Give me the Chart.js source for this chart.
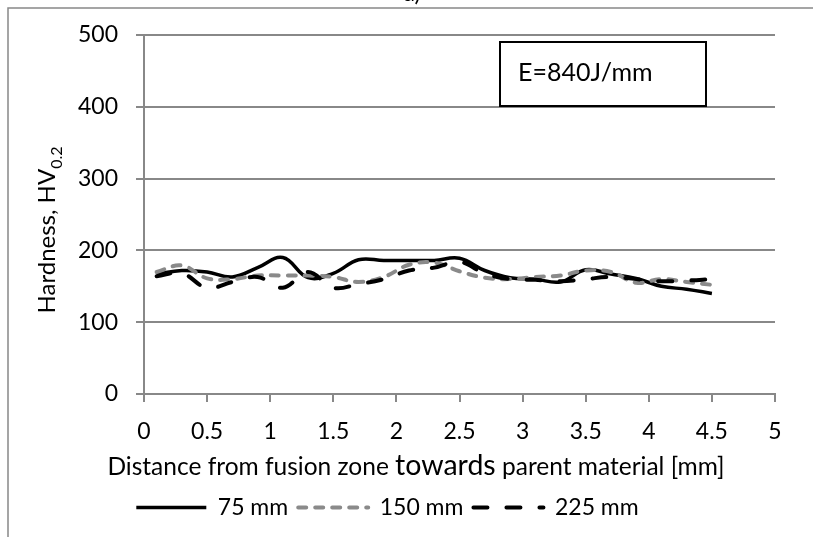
<!DOCTYPE html>
<html>
<head>
<meta charset="utf-8">
<script src="https://cdn.jsdelivr.net/npm/chart.js@4.4.3/dist/chart.umd.min.js"></script>
<style>
  html, body { margin: 0; padding: 0; background: #fff; }
</style>
</head>
<body>
<canvas id="chart" width="813" height="537"></canvas>
<script>

// Measuring points [mm]
const distances = [0.1, 0.3, 0.5, 0.7, 0.9, 1.1, 1.3, 1.5, 1.7, 1.9, 2.1, 2.3,
  2.5, 2.7, 2.9, 3.1, 3.3, 3.5, 3.7, 3.9, 4.1, 4.3, 4.5];

// Hardness HV0.2 per distance from weld start
const hv75 = [167, 172, 170, 163, 176, 190, 162, 168, 187, 186, 186, 186,
  189, 172, 162, 160, 156, 173, 167, 161, 150, 146, 140];
const hv150 = [170, 179, 161, 160, 165, 165, 165, 163, 156, 163, 180, 183,
  171, 162, 160, 163, 165, 172, 170, 155, 160, 156, 152];
const hv225 = [164, 168, 148, 156, 163, 148, 170, 148, 153, 160, 172, 176,
  184, 168, 160, 159, 157, 160, 163, 160, 157, 158, 160];

const seriesNames = ['75 mm', '150 mm', '225 mm'];

const xRange = [0, 5];
const xStep = 0.5;
const yRange = [0, 500];
const yStep = 100;

const xTitle = ['Distance from fusion zone ', 'towards', ' parent material [mm]'];
const yTitle = ['Hardness, HV', '0.2'];
const boxLabel = 'E=840J/mm';

const FONT = 'Lato, "Liberation Sans", sans-serif';
const GRID = '#888888';

const points = values => values.map((v, i) => ({ x: distances[i], y: v }));

// Frame, axis titles and the energy label box.
const decorations = {
  id: 'decorations',
  afterDraw(chart) {
    const ctx = chart.ctx;
    ctx.save();

    // outer frame (only left and top edge inside the picture)
    ctx.strokeStyle = GRID;
    ctx.lineWidth = 1.5;
    ctx.beginPath();
    ctx.moveTo(8, 537);
    ctx.lineTo(8, 8);
    ctx.lineTo(813, 8);
    ctx.stroke();

    // cut off panel label
    ctx.fillStyle = '#000';
    ctx.font = `23px ${FONT}`;
    ctx.textAlign = 'center';
    ctx.textBaseline = 'alphabetic';
    ctx.fillText('a)', 412, 1);

    // y title with subscript
    ctx.save();
    ctx.translate(55, 230);
    ctx.rotate(-Math.PI / 2);
    ctx.textAlign = 'left';
    ctx.font = `24px ${FONT}`;
    const wMain = ctx.measureText(yTitle[0]).width;
    ctx.font = `16px ${FONT}`;
    const wSub = ctx.measureText(yTitle[1]).width;
    const y0 = -(wMain + wSub) / 2;
    ctx.font = `24px ${FONT}`;
    ctx.fillText(yTitle[0], y0, 0);
    ctx.font = `16px ${FONT}`;
    ctx.fillText(yTitle[1], y0 + wMain, 7);
    ctx.restore();

    // x title, middle word set larger
    const sizes = [24.5, 28.5, 24.5];
    const widths = xTitle.map((t, i) => {
      ctx.font = `${sizes[i]}px ${FONT}`;
      return ctx.measureText(t).width;
    });
    let x = 416 - widths.reduce((a, b) => a + b, 0) / 2;
    ctx.textAlign = 'left';
    xTitle.forEach((t, i) => {
      ctx.font = `${sizes[i]}px ${FONT}`;
      ctx.fillText(t, x, 475);
      x += widths[i];
    });

    // label box
    ctx.fillStyle = '#fff';
    ctx.fillRect(500, 42, 206, 64);
    ctx.strokeStyle = '#000';
    ctx.lineWidth = 2;
    ctx.strokeRect(500, 42, 206, 64);
    ctx.fillStyle = '#000';
    ctx.font = `25px ${FONT}`;
    ctx.fillText(boxLabel, 518, 81);

    ctx.restore();
  }
};

new Chart(document.getElementById('chart'), {
  type: 'line',
  data: {
    datasets: [
      {
        label: seriesNames[0],
        data: points(hv75),
        borderColor: '#000',
        borderWidth: 3.5,
        order: 3
      },
      {
        label: seriesNames[1],
        data: points(hv150),
        borderColor: '#8a8a8a',
        borderWidth: 4,
        borderDash: [8, 9],
        borderCapStyle: 'round',
        order: 2
      },
      {
        label: seriesNames[2],
        data: points(hv225),
        borderColor: '#000',
        borderWidth: 4,
        borderDash: [14, 19],
        borderCapStyle: 'round',
        order: 1
      }
    ]
  },
  options: {
    responsive: false,
    animation: false,
    devicePixelRatio: 1,
    layout: { padding: { top: 35, right: 38, left: 0, bottom: 8 } },
    elements: {
      point: { radius: 0 },
      line: { tension: 0.4, backgroundColor: 'transparent', fill: false }
    },
    plugins: {
      tooltip: { enabled: false },
      legend: {
        position: 'bottom',
        labels: {
          usePointStyle: true,
          pointStyle: 'line',
          pointStyleWidth: 70,
          boxHeight: 23,
          padding: 10,
          color: '#000',
          font: { family: FONT, size: 23 },
          sort: (a, b) => a.datasetIndex - b.datasetIndex,
          // legend lines take dash and width from the dataset line
          generateLabels: chart => Chart.defaults.plugins.legend.labels.generateLabels(chart)
            .map(item => {
              const ds = chart.data.datasets[item.datasetIndex];
              item.lineDash = ds.borderDash || [];
              item.lineWidth = ds.borderWidth;
              item.lineCap = ds.borderCapStyle || 'butt';
              item.strokeStyle = ds.borderColor;
              return item;
            })
        }
      }
    },
    scales: {
      x: {
        type: 'linear',
        min: xRange[0],
        max: xRange[1],
        afterFit: scale => { scale.height = 92 },
        ticks: {
          stepSize: xStep,
          padding: 16,
          color: '#000',
          font: { family: FONT, size: 23 },
          callback: v => String(+v)
        },
        grid: { drawOnChartArea: false, tickLength: 8, color: GRID, lineWidth: 2 },
        border: { color: GRID, width: 2 }
      },
      y: {
        min: yRange[0],
        max: yRange[1],
        afterFit: scale => { scale.width = 144 },
        ticks: {
          stepSize: yStep,
          padding: 18,
          color: '#000',
          font: { family: FONT, size: 23 }
        },
        grid: { tickLength: 8, color: GRID, lineWidth: 2 },
        border: { color: GRID, width: 2 }
      }
    }
  },
  plugins: [decorations]
});
</script>
</body>
</html>
